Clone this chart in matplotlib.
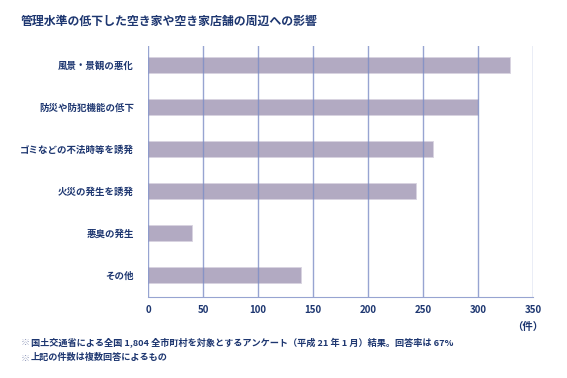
import matplotlib
matplotlib.use('Agg')
import matplotlib.pyplot as plt

plt.rcParams['font.family'] = ['Noto Sans CJK JP', 'DejaVu Sans']

NAVY = '#1d3670'
BAR = '#b2aac2'
GRID = '#7d8ec6'

categories = ['風景・景観の悪化', '防災や防犯機能の低下', 'ゴミなどの不法時等を誘発',
              '火災の発生を誘発', '悪臭の発生', 'その他']
counts = [329, 300, 259, 244, 40, 139]
xticks = [0, 50, 100, 150, 200, 250, 300, 350]

title = '管理水準の低下した空き家や空き家店舗の周辺への影響'
notes = ['国土交通省による全国 1,804 全市町村を対象とするアンケート（平成 21 年 1 月）結果。回答率は 67%',
         '上記の件数は複数回答によるもの']

fig = plt.figure(figsize=(5.67, 3.78), dpi=100)
ax = fig.add_axes([0.261, 0.214, 0.679, 0.664])

y = list(range(len(categories)))
ax.barh(y, counts, height=0.38, color=BAR, edgecolor='#d8d3e0', linewidth=0.6, zorder=1)
for t in xticks:
    ax.axvline(t, color=GRID, linewidth=1.0, alpha=0.8, zorder=2)

ax.set_xlim(0, 350)
ax.set_ylim(len(categories) - 0.48, -0.45)
ax.set_xticks(xticks)
ax.set_xticklabels([str(t) for t in xticks], fontsize=7, fontweight='bold', color=NAVY)
ax.set_yticks(y)
ax.set_yticklabels(categories, fontsize=6.8, fontweight='bold', color=NAVY)
ax.tick_params(axis='x', length=0, pad=6)
ax.tick_params(axis='y', length=0, pad=10)
for side in ['top', 'right', 'left']:
    ax.spines[side].set_visible(False)
ax.spines['bottom'].set_color(GRID)
ax.spines['bottom'].set_alpha(0.8)

fig.text(0.958, 0.135, '（件）', fontsize=7.5, fontweight='bold', color=NAVY, ha='right', va='center')
fig.text(0.037, 0.945, title, fontsize=8.6, fontweight='bold', color=NAVY, ha='left', va='center')
for i, n in enumerate(notes):
    yy = 0.093 - i * 0.04
    fig.text(0.037, yy, '※', fontsize=6.5, fontweight='bold', color='#8a94b8', ha='left', va='center')
    fig.text(0.054, yy, n, fontsize=6.6, fontweight='bold', color=NAVY, ha='left', va='center')

fig.savefig('out.png', dpi=100)
